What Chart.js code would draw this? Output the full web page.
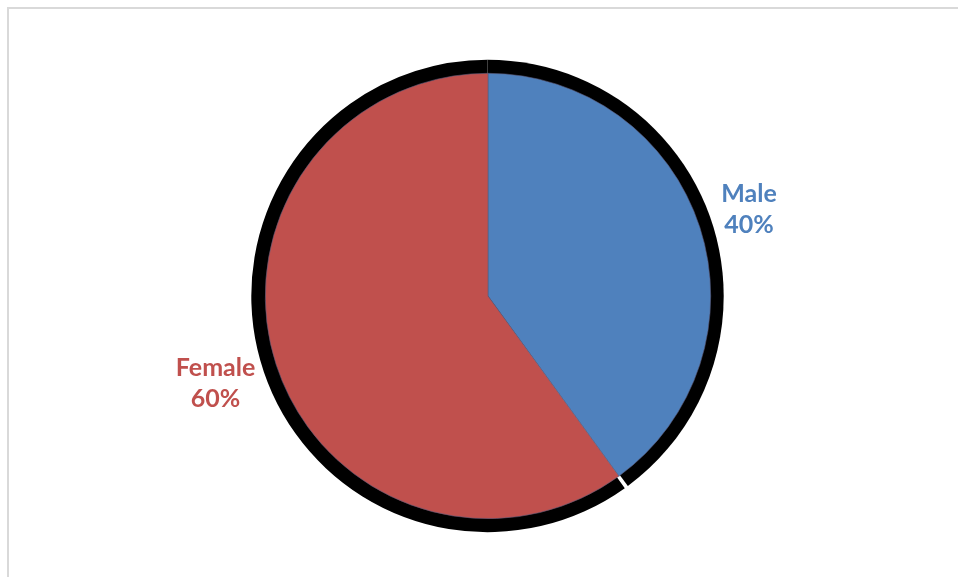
<!DOCTYPE html>
<html>
<head>
<meta charset="utf-8">
<script src="https://cdn.jsdelivr.net/npm/chart.js@4"></script>
<style>
  html, body { margin: 0; padding: 0; background: #fff; overflow: hidden; }
  #frame {
    position: absolute; left: 7px; top: 7px; width: 1200px; height: 800px;
    border-top: 2px solid #d9d9d9; border-left: 2px solid #d9d9d9;
  }
  #wrap { position: absolute; left: 0; top: 0; width: 958px; height: 577px; }
</style>
</head>
<body>
<div id="frame"></div>
<div id="wrap"><canvas id="pie"></canvas></div>
<script>
const categories = ['Male', 'Female'];
const shares = [40, 60];
const sliceColors = ['#4F81BD', '#C0504D'];
const pctLabels = ['40%', '60%'];

// black rim behind each slice, small notch only between slices (not at the 12 o'clock seam)
const rimPlugin = {
  id: 'rim',
  beforeDatasetsDraw(chart) {
    const ctx = chart.ctx;
    const arcs = chart.getDatasetMeta(0).data;
    arcs.forEach((arc, i) => {
      const p = arc.getProps(['x', 'y', 'startAngle', 'endAngle', 'outerRadius']);
      const s = i > 0 ? p.startAngle + 0.008 : p.startAngle;
      const e = i < arcs.length - 1 ? p.endAngle - 0.008 : p.endAngle;
      ctx.save();
      ctx.fillStyle = '#000';
      ctx.beginPath();
      ctx.moveTo(p.x - 0.5, p.y);
      ctx.arc(p.x - 0.5, p.y, p.outerRadius + 13.5, s, e);
      ctx.closePath();
      ctx.fill();
      ctx.restore();
    });
  }
};

// outside labels: name + percent
const labelPlugin = {
  id: 'outLabels',
  afterDatasetsDraw(chart) {
    const ctx = chart.ctx;
    ctx.save();
    ctx.font = 'bold 25px Lato';
    ctx.textAlign = 'center';
    ctx.textBaseline = 'alphabetic';
    chart.getDatasetMeta(0).data.forEach((arc, i) => {
      const p = arc.getProps(['x', 'y', 'startAngle', 'endAngle', 'outerRadius']);
      const mid = (p.startAngle + p.endAngle) / 2;
      const halfW = Math.max(ctx.measureText(categories[i]).width, ctx.measureText(pctLabels[i]).width) / 2;
      const d = p.outerRadius + 24 + halfW;
      const cx = p.x + Math.cos(mid) * d;
      const cy = p.y + Math.sin(mid) * d;
      ctx.fillStyle = sliceColors[i];
      ctx.fillText(categories[i], cx, cy - 9);
      ctx.fillText(pctLabels[i], cx, cy + 22);
    });
    ctx.restore();
  }
};

new Chart(document.getElementById('pie'), {
  type: 'pie',
  data: {
    labels: categories,
    datasets: [{
      data: shares,
      backgroundColor: sliceColors,
      borderColor: '#5a5a7a',
      borderWidth: 0.6
    }]
  },
  options: {
    responsive: true,
    maintainAspectRatio: false,
    animation: false,
    layout: { padding: { top: 73, bottom: 58, left: 265, right: 247 } },
    plugins: {
      legend: { display: false },
      tooltip: { enabled: false }
    }
  },
  plugins: [rimPlugin, labelPlugin]
});
</script>
</body>
</html>
